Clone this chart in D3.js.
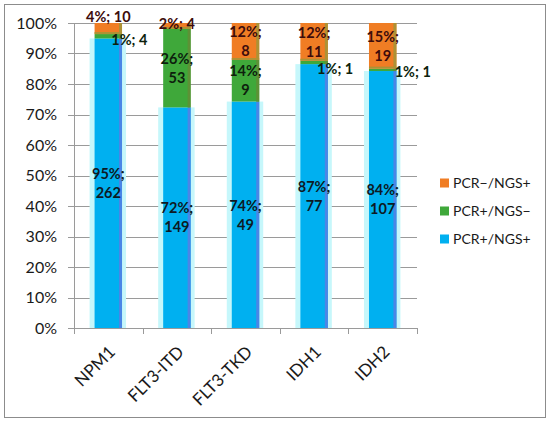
<!DOCTYPE html>
<html>
<head>
<meta charset="utf-8">
<script src="https://cdn.jsdelivr.net/npm/d3@7"></script>
<style>
  body { margin: 0; background: #fff; }
  svg text { font-family: Lato, "Open Sans", sans-serif; }
</style>
</head>
<body>
<div id="chart"></div>
<script>
// mutation counts per method agreement
const genes = ["NPM1", "FLT3-ITD", "FLT3-TKD", "IDH1", "IDH2"]
const seriesNames = ["PCR+/NGS+", "PCR+/NGS\u2212", "PCR\u2212/NGS+"]
const bothPos = [262, 149, 49, 77, 107]
const pcrOnly = [4, 53, 9, 1, 1]
const ngsOnly = [10, 4, 8, 11, 19]
const yTicks = [0, 0.1, 0.2, 0.3, 0.4, 0.5, 0.6, 0.7, 0.8, 0.9, 1]

const colors = ["#00b0f0", "#3fa83a", "#f07d24"]
const edgeColors = ["#4a86e6", "#5d9236", "#ad9235"]
const textColors = ["#0d1a24", "#0d1f0d", "#3d0c0c"]

// manual nudges for the small one-line labels (series index -> gene -> [anchor, dx, dy])
const smallLabelPos = {
    1: { "NPM1": ["start", 3, 4], "IDH1": ["start", 3, 6], "IDH2": ["start", 12, 2] },
    2: { "NPM1": ["middle", 0, -12], "FLT3-ITD": ["middle", 0, -2] }
}

let width = 550
let height = 423
let margin = { top: 23, right: 133, bottom: 95, left: 74 }

var svg = d3.select("#chart")
    .append("svg")
    .attr("width", width)
    .attr("height", height)

svg.append("rect")
    .attr("x", 4.5).attr("y", 4.5)
    .attr("width", 541).attr("height", 413)
    .attr("fill", "#fff")
    .attr("stroke", "#8c8c8c")

var table = genes.map((g, i) => ({
    gene: g,
    "PCR+/NGS+": bothPos[i],
    "PCR+/NGS\u2212": pcrOnly[i],
    "PCR\u2212/NGS+": ngsOnly[i]
}))

var stacked = d3.stack()
    .keys(seriesNames)
    .offset(d3.stackOffsetExpand)(table)

var x = d3.scaleBand()
    .domain(genes)
    .range([margin.left, width - margin.right])

var y = d3.scaleLinear()
    .domain([0, 1])
    .range([height - margin.bottom, margin.top])

let barW = x.bandwidth() * 0.4

// grid + y labels
svg.append("g")
    .selectAll("line")
    .data(yTicks)
    .enter()
    .append("line")
    .attr("x1", margin.left - 6)
    .attr("x2", width - margin.right)
    .attr("y1", d => Math.round(y(d)) + 0.5)
    .attr("y2", d => Math.round(y(d)) + 0.5)
    .attr("stroke", "#9a9a9a")
    .attr("stroke-width", 1)

svg.append("g")
    .selectAll("text")
    .data(yTicks)
    .enter()
    .append("text")
    .attr("x", margin.left - 17)
    .attr("y", d => y(d))
    .attr("dy", "0.36em")
    .attr("text-anchor", "end")
    .style("font-size", "16px")
    .attr("fill", "#1a1a1a")
    .text(d3.format(".0%"))

// axis lines
svg.append("line")
    .attr("x1", margin.left + 0.5).attr("x2", margin.left + 0.5)
    .attr("y1", y(1)).attr("y2", y(0))
    .attr("stroke", "#9a9a9a")

svg.append("g")
    .selectAll("line")
    .data(genes.concat(["end"]))
    .enter()
    .append("line")
    .attr("x1", (d, i) => Math.round(margin.left + i * x.step()) + 0.5)
    .attr("x2", (d, i) => Math.round(margin.left + i * x.step()) + 0.5)
    .attr("y1", y(0))
    .attr("y2", y(0) + 6)
    .attr("stroke", "#9a9a9a")

// bars
stacked.forEach((layer, si) => {
    var g = svg.append("g")
    layer.forEach(d => {
        let cx = x(d.data.gene) + x.bandwidth() / 2
        let y0 = y(d[0]), y1 = y(d[1])
        if (si == 0) {
            g.append("rect")
                .attr("x", cx - barW / 2 - 5)
                .attr("y", y1)
                .attr("width", barW + 9)
                .attr("height", y0 - y1)
                .attr("fill", "#c6f7fb")
        }
        g.append("rect")
            .attr("x", cx - barW / 2)
            .attr("y", y1)
            .attr("width", barW)
            .attr("height", y0 - y1)
            .attr("fill", colors[si])
        g.append("rect")
            .attr("x", cx + barW / 2 - 3)
            .attr("y", y1)
            .attr("width", 3)
            .attr("height", y0 - y1)
            .attr("fill", edgeColors[si])
        if (si == 2) {
            g.append("rect")
                .attr("x", cx - barW / 2)
                .attr("y", y0 - 2)
                .attr("width", barW)
                .attr("height", 2)
                .attr("fill", edgeColors[si])
        }
    })
})

// value labels
stacked.forEach((layer, si) => {
    layer.forEach((d, gi) => {
        let gene = d.data.gene
        let count = d.data[seriesNames[si]]
        let share = d[1] - d[0]
        let pct = Math.round(share * 100) + "%;"
        let cx = x(gene) + x.bandwidth() / 2
        let cy = (y(d[0]) + y(d[1])) / 2
        let small = smallLabelPos[si] && smallLabelPos[si][gene]
        let t = svg.append("text")
            .attr("fill", textColors[si])
            .style("font-size", "14.5px")
            .style("font-weight", "bold")
        if (small) {
            t.attr("x", cx + small[1])
                .attr("y", cy + small[2])
                .attr("dy", "0.36em")
                .attr("text-anchor", small[0])
                .text(pct + " " + count)
        } else {
            if (cy < y(0.95)) cy = cy - 3
            t.attr("text-anchor", "middle")
            t.append("tspan").attr("x", cx).attr("y", cy - 9.5).attr("dy", "0.36em").text(pct)
            t.append("tspan").attr("x", cx).attr("y", cy + 9.5).attr("dy", "0.36em").text(count)
        }
    })
})

// x labels
svg.append("g")
    .selectAll("text")
    .data(genes)
    .enter()
    .append("text")
    .attr("transform", d => `translate(${x(d) + x.bandwidth() / 2 + 8},${y(0) + 25}) rotate(-45)`)
    .attr("text-anchor", "end")
    .style("font-size", "17px")
    .attr("fill", "#1a1a1a")
    .text(d => d)

// legend (reverse order, top = last series)
const legend = svg.append("g")
    .attr("transform", `translate(440,183)`)

var legendItems = seriesNames.map((s, i) => ({ name: s, color: colors[i] })).reverse()

legend.selectAll(null)
    .data(legendItems)
    .enter()
    .append("rect")
    .attr("x", 0)
    .attr("y", (d, i) => i * 28 - 4.5)
    .attr("width", 9)
    .attr("height", 9)
    .attr("fill", d => d.color)

legend.selectAll(null)
    .data(legendItems)
    .enter()
    .append("text")
    .attr("x", 13)
    .attr("y", (d, i) => i * 28)
    .attr("dy", "0.36em")
    .style("font-size", "14px")
    .attr("fill", "#1a1a1a")
    .text(d => d.name)
</script>
</body>
</html>
